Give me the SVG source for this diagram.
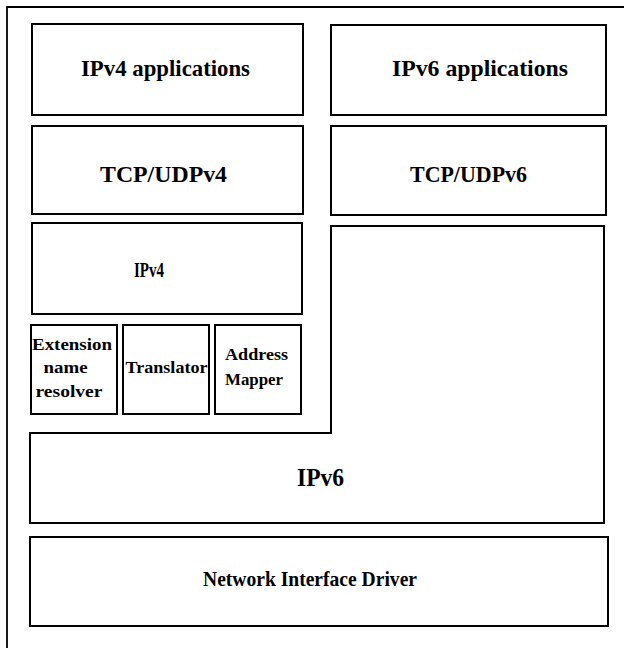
<svg xmlns="http://www.w3.org/2000/svg" width="624" height="648" viewBox="0 0 624 648">
  <style>
    .box { fill: none; stroke: #000; stroke-width: 2; stroke-linejoin: miter; }
    .frame { fill: none; stroke: #000; stroke-width: 1.8; }
    text { font-family: "Liberation Serif", "Times New Roman", serif; font-weight: bold; fill: #000; text-anchor: middle; }
    .lg { font-size: 23px; }
    .xl { font-size: 25px; }
    .md { font-size: 21px; }
    .sm { font-size: 16px; }
  </style>
  <rect width="624" height="648" fill="#fff"/>

  <!-- outer frame: only top and left edges are visible -->
  <path class="frame" d="M7,648 V7 H624"/>

  <g id="ipv4-apps">
    <rect class="box" x="32" y="24" width="271" height="91"/>
    <text class="lg" x="165.5" y="76" textLength="169" lengthAdjust="spacingAndGlyphs">IPv4 applications</text>
  </g>

  <g id="ipv6-apps">
    <rect class="box" x="331" y="25" width="275" height="90"/>
    <text class="lg" x="480" y="76" textLength="176" lengthAdjust="spacingAndGlyphs">IPv6 applications</text>
  </g>

  <g id="tcp-udp-v4">
    <rect class="box" x="32" y="126" width="271" height="88"/>
    <text class="lg" x="163.5" y="182" textLength="127" lengthAdjust="spacingAndGlyphs">TCP/UDPv4</text>
  </g>

  <g id="tcp-udp-v6">
    <rect class="box" x="331" y="126" width="275" height="89"/>
    <text class="lg" x="468.5" y="182" textLength="117" lengthAdjust="spacingAndGlyphs">TCP/UDPv6</text>
  </g>

  <g id="ipv4">
    <rect class="box" x="32" y="223" width="270" height="91"/>
    <text class="md" x="149" y="277" textLength="30" lengthAdjust="spacingAndGlyphs">IPv4</text>
  </g>

  <g id="extension-name-resolver">
    <rect class="box" x="31" y="325" width="86" height="89"/>
    <text class="sm" x="72" y="350" textLength="80" lengthAdjust="spacingAndGlyphs">Extension</text>
    <text class="sm" x="65.5" y="373" textLength="44" lengthAdjust="spacingAndGlyphs">name</text>
    <text class="sm" x="69" y="397" textLength="67" lengthAdjust="spacingAndGlyphs">resolver</text>
  </g>

  <g id="translator">
    <rect class="box" x="123" y="325" width="86" height="89"/>
    <text class="sm" x="166.5" y="373" textLength="82" lengthAdjust="spacingAndGlyphs">Translator</text>
  </g>

  <g id="address-mapper">
    <rect class="box" x="215" y="325" width="86" height="89"/>
    <text class="sm" x="256.5" y="360" textLength="63" lengthAdjust="spacingAndGlyphs">Address</text>
    <text class="sm" x="254" y="385" textLength="58" lengthAdjust="spacingAndGlyphs">Mapper</text>
  </g>

  <g id="ipv6">
    <path class="box" d="M30,433 H331 V226 H604 V523 H30 Z"/>
    <text class="xl" x="320.5" y="486" textLength="47" lengthAdjust="spacingAndGlyphs">IPv6</text>
  </g>

  <g id="network-interface-driver">
    <rect class="box" x="30" y="537" width="578" height="89"/>
    <text class="md" x="310" y="586" textLength="214" lengthAdjust="spacingAndGlyphs">Network Interface Driver</text>
  </g>
</svg>
